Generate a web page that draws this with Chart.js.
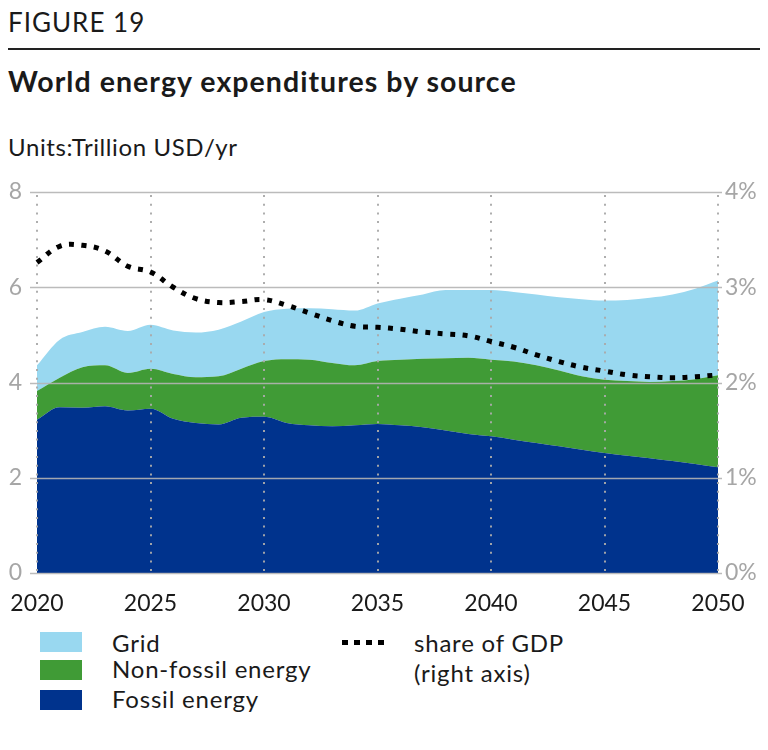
<!DOCTYPE html>
<html>
<head>
<meta charset="utf-8">
<script src="https://cdn.jsdelivr.net/npm/chart.js@4/dist/chart.umd.min.js"></script>
<style>
  html, body { margin:0; padding:0; background:#fff; }
  body { width:768px; height:750px; position:relative; overflow:hidden; font-family:Lato, sans-serif; color:#1a1a1a; }
  .t { position:absolute; line-height:1; white-space:nowrap; }
  #fig { left:8px; top:9px; font-size:26px; letter-spacing:1px; }
  #rule { position:absolute; left:8px; top:48px; width:752px; height:2px; background:#222; }
  #title { left:8px; top:67px; font-size:28.5px; font-weight:bold; letter-spacing:1.05px; }
  #units { left:8px; top:135px; font-size:24px; letter-spacing:0.6px; }
  #wrap { position:absolute; left:0; top:175px; width:768px; height:450px; }
  .box { position:absolute; left:40px; width:42px; height:20px; }
  .lt { font-size:24px; letter-spacing:0.8px; }
  #dots { position:absolute; left:342px; top:640px; width:44px; height:5px;
          background:repeating-linear-gradient(90deg,#000 0 6px,transparent 6px 12px); }
</style>
</head>
<body>
<div class="t" id="fig">FIGURE 19</div>
<div id="rule"></div>
<div class="t" id="title">World energy expenditures by source</div>
<div class="t" id="units">Units:Trillion USD/yr</div>
<div id="wrap"><canvas id="c"></canvas></div>

<div class="box" style="top:632px;background:#99d8f0"></div>
<div class="t lt" style="left:112px;top:631px">Grid</div>
<div class="box" style="top:660px;background:#409b36"></div>
<div class="t lt" style="left:112px;top:657px">Non-fossil energy</div>
<div class="box" style="top:690px;background:#00338d"></div>
<div class="t lt" style="left:112px;top:687px">Fossil energy</div>
<div id="dots"></div>
<div class="t lt" style="left:414px;top:631px">share of GDP</div>
<div class="t lt" style="left:414px;top:661px">(right axis)</div>

<script>
const years = [2020,2021,2022,2023,2024,2025,2026,2027,2028,2029,2030,2031,2032,2033,2034,2035,2036,2037,2038,2039,2040,2041,2042,2043,2044,2045,2046,2047,2048,2049,2050];
const fossil = [3.22,3.48,3.47,3.50,3.41,3.45,3.24,3.15,3.12,3.26,3.28,3.15,3.10,3.08,3.10,3.13,3.10,3.06,2.99,2.92,2.87,2.80,2.73,2.66,2.59,2.52,2.46,2.41,2.35,2.29,2.22];
const nonFossil = [0.60,0.62,0.85,0.86,0.79,0.84,0.94,0.96,1.01,1.03,1.17,1.34,1.38,1.33,1.26,1.32,1.38,1.44,1.52,1.60,1.61,1.64,1.63,1.59,1.54,1.54,1.57,1.60,1.68,1.78,1.93];
const grid = [0.54,0.80,0.74,0.81,0.88,0.92,0.91,0.94,0.98,0.99,1.03,1.06,1.08,1.13,1.15,1.21,1.28,1.35,1.43,1.42,1.46,1.46,1.49,1.54,1.62,1.66,1.70,1.77,1.82,1.90,1.99];
const gdpShare = [3.26,3.43,3.44,3.38,3.22,3.16,3.00,2.88,2.84,2.85,2.87,2.81,2.73,2.65,2.59,2.58,2.56,2.53,2.51,2.49,2.43,2.37,2.29,2.22,2.16,2.12,2.08,2.06,2.05,2.06,2.08];
const leftTicks = [0,2,4,6,8];
const rightTicks = ['0%','1%','2%','3%','4%'];

const overlayGrid = {
  id: 'overlayGrid',
  beforeDatasetDraw(chart, args) {
    if (args.index !== 3) return;
    const { ctx, chartArea: a, scales } = chart;
    const x = scales.x, y = scales.y;
    ctx.save();
    ctx.strokeStyle = 'rgba(180,180,180,0.9)';
    ctx.lineWidth = 1.5;
    leftTicks.forEach(v => {
      const py = Math.round(y.getPixelForValue(v)) + 0.5;
      ctx.beginPath(); ctx.moveTo(a.left - 7, py); ctx.lineTo(a.right + 4, py); ctx.stroke();
    });
    ctx.setLineDash([2, 6.7]);
    ctx.strokeStyle = 'rgba(170,170,170,0.95)';
    ctx.lineWidth = 2;
    years.forEach((yr, i) => {
      if (yr % 5 !== 0) return;
      const px = Math.round(x.getPixelForValue(i));
      ctx.beginPath(); ctx.moveTo(px, a.top + 3); ctx.lineTo(px, a.bottom); ctx.stroke();
    });
    ctx.restore();
  }
};

function noPad(s) { s.paddingTop = 0; s.paddingBottom = 0; s.paddingLeft = 0; s.paddingRight = 0; }

const tickFont = { family: 'Lato', size: 23 };
new Chart(document.getElementById('c'), {
  type: 'line',
  data: {
    labels: years,
    datasets: [
      { label: 'Fossil energy', data: fossil, backgroundColor: '#00338d', borderWidth: 0, fill: 'origin', pointRadius: 0, cubicInterpolationMode: 'monotone', yAxisID: 'y', order: 1 },
      { label: 'Non-fossil energy', data: nonFossil, backgroundColor: '#409b36', borderWidth: 0, fill: '-1', pointRadius: 0, cubicInterpolationMode: 'monotone', yAxisID: 'y', order: 1 },
      { label: 'Grid', data: grid, backgroundColor: '#99d8f0', borderWidth: 0, fill: '-1', pointRadius: 0, cubicInterpolationMode: 'monotone', yAxisID: 'y', order: 1 },
      { label: 'share of GDP (right axis)', data: gdpShare, borderColor: '#000', borderWidth: 5, borderDash: [5, 7.5], borderCapStyle: 'butt', fill: false, pointRadius: 0, tension: 0.4, yAxisID: 'y2', order: 0 }
    ]
  },
  options: {
    responsive: true,
    maintainAspectRatio: false,
    animation: false,
    layout: { padding: { top: 17, left: 0, right: 0, bottom: 0 } },
    plugins: { legend: { display: false }, tooltip: { enabled: false } },
    scales: {
      x: {
        type: 'category',
        offset: false,
        grid: { display: false, drawTicks: false },
        border: { display: false },
        ticks: {
          autoSkip: false, maxRotation: 0, padding: 17, color: '#1a1a1a', font: tickFont,
          callback: function (v) { const l = this.getLabelForValue(v); return l % 5 === 0 ? String(l) : ''; }
        },
        afterFit: s => { s.height = 52; noPad(s); }
      },
      y: {
        stacked: true, min: 0, max: 8, position: 'left',
        grid: { display: false, drawTicks: false },
        border: { display: false },
        ticks: { stepSize: 2, padding: 15, color: '#a6a6a6', font: tickFont },
        afterFit: s => { s.width = 37; noPad(s); }
      },
      y2: {
        min: 0, max: 4, position: 'right',
        grid: { display: false, drawTicks: false },
        border: { display: false },
        ticks: { stepSize: 1, padding: 7, color: '#a6a6a6', font: tickFont,
          callback: (v) => rightTicks[v] },
        afterFit: s => { s.width = 50; noPad(s); }
      }
    }
  },
  plugins: [overlayGrid]
});
</script>
</body>
</html>
